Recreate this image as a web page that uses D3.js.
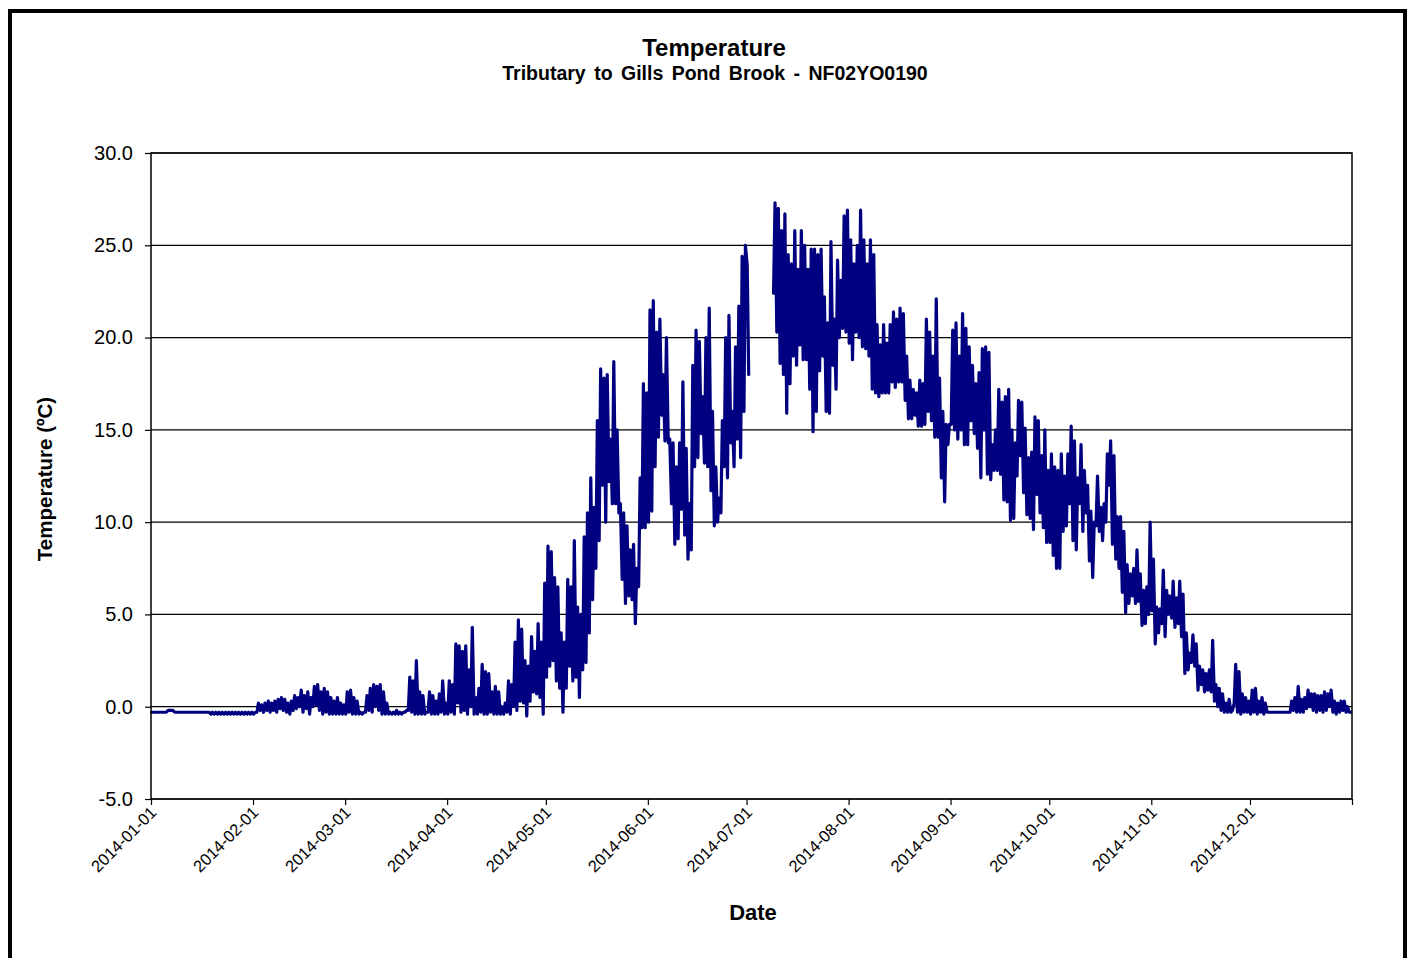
<!DOCTYPE html>
<html><head><meta charset="utf-8">
<script src="https://cdn.jsdelivr.net/npm/d3@7"></script>
<style>
body{margin:0;background:#fff}
svg{display:block}
text{font-family:Arial,"Liberation Sans",Helvetica,sans-serif;fill:#000}
</style>
</head><body>
<svg id="chart" width="1413" height="958"></svg>
<script>
// ---- data (daily low / high readings, °C) ----
const yTicks = [-5, 0, 5, 10, 15, 20, 25, 30];
const monthTicks = ["2014-01-01","2014-02-01","2014-03-01","2014-04-01","2014-05-01","2014-06-01",
                    "2014-07-01","2014-08-01","2014-09-01","2014-10-01","2014-11-01","2014-12-01"];

const lowJan = [-0.3,-0.3,-0.3,-0.3,-0.3,-0.2,-0.2,-0.3,-0.3,-0.3,-0.3,-0.3,-0.3,-0.3,-0.3,-0.3,-0.3,-0.3,-0.4,-0.4,-0.4,-0.4,-0.4,-0.4,-0.4,-0.4,-0.4,-0.4,-0.4,-0.4,-0.4];
const highJan = [-0.3,-0.3,-0.3,-0.3,-0.3,-0.2,-0.2,-0.3,-0.3,-0.3,-0.3,-0.3,-0.3,-0.3,-0.3,-0.3,-0.3,-0.3,-0.3,-0.3,-0.3,-0.3,-0.3,-0.3,-0.3,-0.3,-0.3,-0.3,-0.3,-0.3,-0.3];
const lowFeb = [-0.4,-0.3,-0.2,-0.3,-0.2,-0.3,-0.2,-0.3,-0.1,-0.2,-0.3,-0.4,-0.2,-0.1,0.0,-0.3,-0.1,-0.4,0.0,0.1,-0.2,-0.4,-0.3,-0.4,-0.4,-0.4,-0.4,-0.4];
const highFeb = [-0.3,0.2,0.1,0.2,0.3,0.2,0.3,0.4,0.5,0.4,0.2,0.3,0.6,0.5,0.9,0.6,0.8,0.5,1.1,1.2,0.8,1.0,0.8,0.5,0.3,0.5,0.2,0.1];
const lowMar = [-0.4,-0.3,-0.4,-0.4,-0.4,-0.4,-0.3,-0.2,-0.3,0.0,-0.2,-0.4,-0.4,-0.4,-0.4,-0.4,-0.4,-0.4,-0.3,-0.2,-0.3,-0.4,-0.4,-0.4,-0.4,-0.3,-0.4,-0.4,-0.4,-0.3,-0.4];
const highMar = [0.8,0.9,0.5,0.3,-0.3,-0.3,0.6,1.0,1.2,1.1,1.2,0.8,0.2,-0.3,-0.3,-0.2,-0.3,-0.3,-0.2,1.6,1.4,2.5,0.8,0.6,-0.3,0.8,0.6,0.3,0.7,1.4,0.2];
const lowApr = [-0.4,-0.3,-0.4,0.2,-0.3,-0.2,-0.4,0.0,-0.4,-0.4,-0.3,-0.4,-0.4,-0.3,-0.4,-0.4,-0.4,-0.4,-0.3,-0.4,0.0,-0.2,0.3,0.2,-0.5,0.3,0.8,0.7,0.5,-0.4];
const highApr = [1.4,1.2,3.4,3.3,3.0,3.3,2.0,4.3,0.5,1.0,2.3,1.9,1.8,0.8,1.1,0.8,0.0,0.2,1.4,1.2,3.5,4.7,4.2,2.5,2.2,3.8,3.0,4.5,3.5,6.7];
const lowMay = [1.6,2.2,2.5,1.4,1.0,-0.3,1.0,2.2,1.4,1.6,0.5,2.0,2.4,4.0,5.8,7.5,9.0,12.0,10.0,12.2,11.0,11.0,10.5,6.9,5.6,6.0,5.8,4.5,6.5,9.7,9.7];
const highMay = [8.7,8.4,7.0,6.5,4.0,3.5,6.9,6.5,9.0,5.4,5.0,9.2,10.5,12.4,10.8,15.5,18.3,17.8,18.0,14.5,18.7,15.0,11.0,10.5,9.8,8.5,8.8,7.5,12.4,17.5,17.0];
const lowJun = [10.0,10.6,13.0,14.6,15.8,14.4,14.3,11.0,8.8,9.1,10.7,9.3,8.0,8.5,13.0,13.5,14.8,13.2,13.0,11.7,9.8,10.0,10.5,13.0,12.4,14.3,13.0,14.5,13.5,16.0];
const highJun = [21.5,22.0,20.3,21.0,18.0,20.0,14.5,14.3,13.0,14.3,17.6,14.0,11.0,18.5,20.4,19.8,16.8,20.0,21.6,16.0,13.0,11.3,15.5,20.0,21.2,16.0,19.5,21.7,24.4,25.0];
const lowJul = [23.9,null,null,null,null,null,null,null,22.4,20.3,18.6,18.0,15.9,17.5,19.0,18.5,19.6,18.8,18.8,17.2,14.9,16.0,18.2,19.0,16.0,15.9,18.5,17.2,20.0,20.5,20.3];
const highJul = [18.0,null,null,null,null,null,null,null,27.3,27.0,25.8,26.7,24.5,24.0,25.8,23.7,25.8,25.0,23.7,24.8,24.8,24.5,24.8,22.2,20.8,25.2,21.0,24.2,23.1,26.6,26.9];
const lowAug = [19.7,18.8,20.3,20.0,19.5,19.4,19.0,17.2,17.0,16.8,17.0,17.0,17.0,17.6,17.3,17.6,17.6,16.6,15.6,15.6,15.8,15.2,15.2,15.3,16.0,15.5,14.6,14.6,12.4,11.1,14.2];
const highAug = [25.3,24.0,25.0,26.9,25.3,24.0,25.3,24.5,20.7,19.6,20.7,19.7,20.7,21.4,21.0,21.6,21.3,19.0,17.7,17.2,17.0,17.7,17.5,21.0,20.3,19.0,22.1,17.8,16.0,15.3,15.3];
const lowSep = [15.3,15.0,14.5,15.0,14.2,14.2,15.5,14.8,14.0,12.4,15.0,12.6,12.3,12.8,12.8,12.6,11.2,11.1,10.1,10.2,12.5,13.6,11.6,10.4,10.2,9.6,11.5,10.5,9.7,8.9];
const highSep = [20.4,20.8,19.0,21.3,20.5,19.5,18.5,17.5,18.1,19.4,19.5,19.2,14.2,15.0,17.2,16.5,16.8,17.2,15.0,14.3,16.6,16.5,15.1,13.5,13.8,15.7,15.5,13.6,15.0,12.8];
const lowOct = [8.9,8.2,7.5,7.5,9.5,9.8,11.0,9.0,8.5,11.0,9.5,10.5,7.9,7.0,9.8,9.5,9.0,10.0,12.0,8.8,8.0,7.5,6.2,5.1,5.6,6.0,5.6,5.7,4.4,4.5,5.0];
const highOct = [13.7,13.0,12.8,13.7,12.5,13.7,15.2,14.4,12.4,14.2,12.8,12.0,10.6,10.0,12.5,10.8,11.0,13.7,14.4,13.6,10.3,10.3,9.5,7.7,7.2,7.5,8.5,7.2,6.3,6.5,10.0];
const lowNov = [5.2,3.4,4.0,4.5,3.8,5.0,4.8,4.3,4.5,3.8,1.8,2.0,2.4,2.2,0.9,1.2,0.8,0.9,0.8,0.3,0.0,-0.2,-0.3,-0.3,-0.3,0.2,-0.3,-0.4,-0.3,-0.3];
const highNov = [8.0,5.4,5.3,7.4,6.3,6.0,6.8,5.9,6.8,6.1,4.0,2.9,3.9,3.4,2.2,2.0,1.8,2.0,3.6,1.2,1.0,0.7,0.2,0.4,-0.2,2.3,1.9,0.7,0.5,0.3];
const lowDec = [-0.4,-0.3,-0.4,-0.3,-0.4,-0.3,-0.3,-0.3,-0.3,-0.3,-0.3,-0.3,-0.3,-0.2,-0.3,-0.3,-0.3,-0.1,0.0,-0.2,-0.3,-0.2,-0.3,-0.2,0.0,-0.3,-0.4,-0.3,-0.2,-0.3,-0.3];
const highDec = [0.9,1.0,0.3,0.5,0.2,-0.3,-0.3,-0.3,-0.3,-0.3,-0.3,-0.3,0.3,0.5,1.1,0.4,0.5,0.9,0.7,0.7,0.6,0.6,0.8,0.7,0.9,0.3,0.2,0.3,0.3,0.0,-0.3];

const dailyLow = [].concat(lowJan, lowFeb, lowMar, lowApr, lowMay, lowJun, lowJul, lowAug, lowSep, lowOct, lowNov, lowDec);
const dailyHigh = [].concat(highJan, highFeb, highMar, highApr, highMay, highJun, highJul, highAug, highSep, highOct, highNov, highDec);

// ---- layout ----
const W = 1413, H = 958;
const plot = {left: 151, right: 1352, top: 153, bottom: 799};
const svg = d3.select("#chart");
const DAY = 86400000;
const t0 = Date.UTC(2014, 0, 1);

const x = d3.scaleUtc().domain([new Date(t0), new Date(Date.UTC(2015, 0, 1))]).range([plot.left, plot.right]);
const y = d3.scaleLinear().domain([-5, 30]).range([plot.bottom, plot.top]);

// outer frame
svg.append("rect").attr("x", 0).attr("y", 0).attr("width", W).attr("height", H).attr("fill", "#fff");
svg.append("rect").attr("x", 10).attr("y", 11).attr("width", 1395).attr("height", 1000)
  .attr("fill", "none").attr("stroke", "#000").attr("stroke-width", 4);

// titles
svg.append("text").attr("x", 714).attr("y", 56).attr("text-anchor", "middle")
  .attr("font-weight", "bold").attr("font-size", 24).text("Temperature");
svg.append("text").attr("x", 715).attr("y", 80).attr("text-anchor", "middle")
  .attr("font-weight", "bold").attr("font-size", 19.5).attr("word-spacing", 3)
  .text("Tributary to Gills Pond Brook - NF02YO0190");

// gridlines
svg.append("g").selectAll("line").data(yTicks).join("line")
  .attr("x1", plot.left).attr("x2", plot.right)
  .attr("y1", d => y(d)).attr("y2", d => y(d))
  .attr("stroke", "#000").attr("stroke-width", 1.2);

// y axis
const yAxis = svg.append("g").attr("transform", `translate(${plot.left},0)`)
  .call(d3.axisLeft(y).tickValues(yTicks).tickSize(6).tickPadding(12).tickFormat(d => d.toFixed(1)));
yAxis.select(".domain").remove();
yAxis.selectAll("line").attr("stroke", "#000").attr("stroke-width", 1.2);
yAxis.selectAll("text").attr("font-size", 20).attr("font-family", "Arial, 'Liberation Sans', sans-serif").attr("fill", "#000");

// x axis ticks + labels
const tickDates = monthTicks.map(s => new Date(s + "T00:00:00Z"));
const xAxis = svg.append("g").attr("transform", `translate(0,${plot.bottom})`)
  .call(d3.axisBottom(x).tickValues(tickDates.concat([new Date(Date.UTC(2015,0,1))])).tickSize(6)
    .tickFormat((d, i) => i < monthTicks.length ? monthTicks[i] : ""));
xAxis.select(".domain").remove();
xAxis.selectAll("line").attr("stroke", "#000").attr("stroke-width", 1.2);
xAxis.selectAll("text")
  .attr("font-size", 16.5).attr("font-family", "Arial, 'Liberation Sans', sans-serif").attr("fill", "#000")
  .attr("text-anchor", "end")
  .attr("dy", "0.35em")
  .attr("transform", "translate(2,2) rotate(-45)")
  .attr("x", -6).attr("y", 6);

// axis titles
svg.append("text").attr("x", 753).attr("y", 920).attr("text-anchor", "middle")
  .attr("font-weight", "bold").attr("font-size", 22).text("Date");
svg.append("text").attr("transform", "translate(52,479) rotate(-90)").attr("text-anchor", "middle")
  .attr("font-weight", "bold").attr("font-size", 20.5).text("Temperature (ºC)");

// series
const points = [];
dailyLow.forEach((lo, d) => {
  const hi = dailyHigh[d];
  if (lo === null || hi === null) { points.push(null); return; }
  points.push({t: d + 0.2, v: lo}, {t: d + 0.65, v: hi});
});
const line = d3.line()
  .defined(p => p !== null)
  .x(p => x(new Date(t0 + p.t * DAY)))
  .y(p => y(p.v));
svg.append("path").datum(points).attr("d", line)
  .attr("fill", "none").attr("stroke", "#000080").attr("stroke-width", 3.2)
  .attr("stroke-linejoin", "round").attr("stroke-linecap", "round");

// plot frame
svg.append("rect").attr("x", plot.left).attr("y", plot.top)
  .attr("width", plot.right - plot.left).attr("height", plot.bottom - plot.top)
  .attr("fill", "none").attr("stroke", "#000").attr("stroke-width", 1.5);
</script>
</body></html>
